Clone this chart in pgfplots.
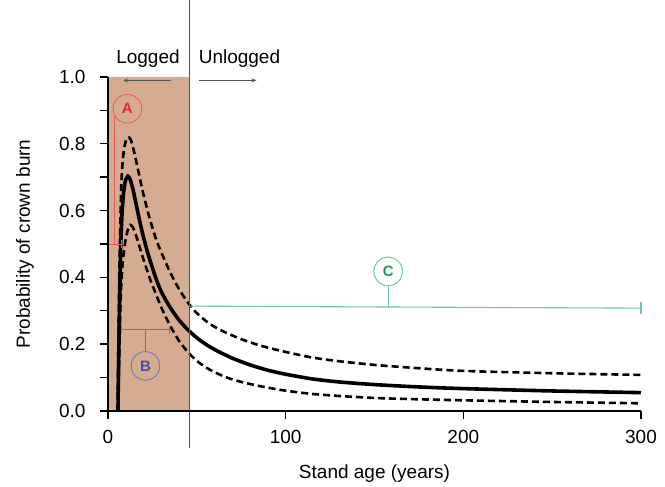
\documentclass[border=0pt]{standalone}
\usepackage{fontspec}
\setmainfont{Liberation Sans}
\usepackage{pgfplots}
\pgfplotsset{compat=1.18}
\usetikzlibrary{arrows.meta}
\definecolor{shade}{HTML}{D5AC8F}
\definecolor{sepgray}{HTML}{555555}
\definecolor{atext}{HTML}{E3262B}
\definecolor{aline}{HTML}{EE5A5A}
\definecolor{btext}{HTML}{3F4FB0}
\definecolor{bline}{HTML}{6572C4}
\definecolor{ctext}{HTML}{17A05D}
\definecolor{cline}{HTML}{6CCB9C}

\begin{document}
\begin{tikzpicture}
\path[use as bounding box] (-108pt,-76pt) rectangle (557pt,411pt);
\begin{axis}[
  at={(0pt,0pt)}, anchor=south west,
  scale only axis, width=533pt, height=334pt,
  xmin=0, xmax=300, ymin=0, ymax=1,
  axis lines*=left,
  axis line style={-, line width=1.7pt, black},
  axis on top,
  clip=false,
  xtick={0,100,200,300},
  ytick={0,0.2,0.4,0.6,0.8,1.0},
  minor ytick={0.1,0.3,0.5,0.7,0.9},
  tick align=outside,
  major tick length=8pt, minor tick length=8pt,
  every tick/.style={black, line width=1.4pt},
  tick label style={font=\fontsize{19}{21}\selectfont},
  /pgf/number format/assume math mode=true,
  yticklabel style={xshift=-11pt, /pgf/number format/.cd, fixed, fixed zerofill, precision=1},
  xticklabel style={yshift=-8pt, /pgf/number format/.cd, fixed, precision=0},
  label style={font=\fontsize{19}{22}\selectfont},
  xlabel={Stand age (years)},
  ylabel={Probability of crown burn},
  xlabel style={at={(axis description cs:0.5,-0.186)}, anchor=center},
  ylabel style={at={(axis description cs:-0.156,0.5)}, anchor=center, rotate=0},
  no markers,
]
% logged period
\addplot[draw=none, fill=shade] coordinates {(0,0) (0,1) (46,1) (46,0)} \closedcycle;

% upper bound
\addplot[black, line width=2.6pt, dash pattern=on 7pt off 4pt, smooth, tension=0.4] coordinates {
 (5.4,0) (5.8,0.18) (6.3,0.38) (6.9,0.56) (7.5,0.68) (8.3,0.75) (9.2,0.79)
 (10.3,0.812) (11.8,0.819) (13,0.81) (14.5,0.78) (16,0.745) (18,0.695) (20,0.648)
 (23,0.585) (27,0.515) (30,0.475) (35,0.415) (40,0.365) (45,0.324) (50,0.293)
 (55,0.27) (60,0.252) (67,0.233) (75,0.215) (85,0.197) (95,0.183) (104,0.172)
 (115,0.16) (130,0.149) (150,0.138) (175,0.128) (200,0.12) (250,0.113) (300,0.108)};

% mean
\addplot[black, line width=3.6pt, smooth, tension=0.4] coordinates {
 (5.6,0) (6.0,0.15) (6.5,0.32) (7.2,0.5) (8.0,0.6) (8.8,0.655) (9.8,0.69)
 (11.2,0.703) (12.5,0.693) (14,0.665) (16,0.615) (18,0.565) (20,0.52) (23,0.462)
 (27,0.397) (30,0.357) (35,0.31) (40,0.272) (45,0.243) (50,0.219) (55,0.2)
 (60,0.184) (70,0.158) (80,0.138) (90,0.122) (100,0.11) (115,0.096) (130,0.087)
 (150,0.079) (175,0.072) (200,0.067) (250,0.06) (300,0.055)};

% lower bound
\addplot[black, line width=2.6pt, dash pattern=on 7pt off 4pt, smooth, tension=0.4] coordinates {
 (5.7,0) (6.1,0.12) (6.7,0.26) (7.4,0.37) (8.2,0.44) (9.0,0.48) (10,0.515)
 (11.2,0.543) (12.6,0.557) (14,0.55) (15.5,0.53) (17,0.505) (19,0.47) (21,0.437)
 (24,0.39) (27,0.35) (30,0.31) (35,0.255) (40,0.21) (45,0.176) (50,0.15)
 (55,0.131) (60,0.116) (67,0.1) (75,0.087) (85,0.075) (95,0.065) (104,0.058)
 (115,0.051) (130,0.045) (150,0.039) (175,0.035) (200,0.032) (250,0.027) (300,0.023)};

% logged / unlogged divider
\draw[sepgray, line width=1.2pt] (axis cs:46,-0.111) -- (axis cs:46,1.232);
\node[font=\fontsize{19}{22}\selectfont] at (axis cs:22.5,1.055) {Logged};
\node[font=\fontsize{19}{22}\selectfont] at (axis cs:74,1.055) {Unlogged};
\draw[sepgray, line width=0.8pt, -{Stealth[length=5pt,width=4pt]}] (axis cs:35.7,0.99) -- (axis cs:8.5,0.99);
\draw[sepgray, line width=0.8pt, -{Stealth[length=5pt,width=4pt]}] (axis cs:51.3,0.99) -- (axis cs:83.6,0.99);

% A
\draw[aline, line width=0.9pt] (axis cs:0,0.5) -- (axis cs:7.3,0.5);
\draw[aline, line width=0.9pt] (axis cs:0,0.5) ++(0,-4pt) -- ++(0,8pt);
\draw[aline, line width=0.9pt] (axis cs:7.3,0.5) ++(0,-4pt) -- ++(0,8pt);
\draw[aline, line width=0.9pt] (axis cs:3.9,0.5) -- (axis cs:3.9,0.883);
\node[draw=aline, line width=0.8pt, circle, minimum size=28.6pt, inner sep=0pt, text=atext,
  font=\fontsize{15}{17}\selectfont\bfseries] at (axis cs:10.9,0.905) {A};

% B
\draw[bline, line width=0.9pt] (axis cs:7.5,0.243) -- (axis cs:34.8,0.243);
\draw[bline, line width=0.9pt] (axis cs:7.5,0.243) ++(0,-4pt) -- ++(0,8pt);
\draw[bline, line width=0.9pt] (axis cs:34.8,0.243) ++(0,-4pt) -- ++(0,8pt);
\draw[bline, line width=0.9pt] (axis cs:21.1,0.243) -- (axis cs:21.1,0.178);
\node[draw=bline, line width=0.8pt, circle, minimum size=28.6pt, inner sep=0pt, text=btext,
  font=\fontsize{15}{17}\selectfont\bfseries] at (axis cs:21.1,0.135) {B};

% C
\draw[cline, line width=1.1pt] (axis cs:46,0.314) -- (axis cs:300,0.308);
\draw[cline, line width=1.1pt] (axis cs:300,0.308) ++(0,-6pt) -- ++(0,12pt);
\draw[cline, line width=1.1pt] (axis cs:157.7,0.3115) -- (axis cs:157.7,0.375);
\node[draw=cline, line width=1pt, circle, minimum size=28.6pt, inner sep=0pt, text=ctext,
  font=\fontsize{15}{17}\selectfont\bfseries] at (axis cs:157.7,0.418) {C};
\end{axis}
\end{tikzpicture}
\end{document}
